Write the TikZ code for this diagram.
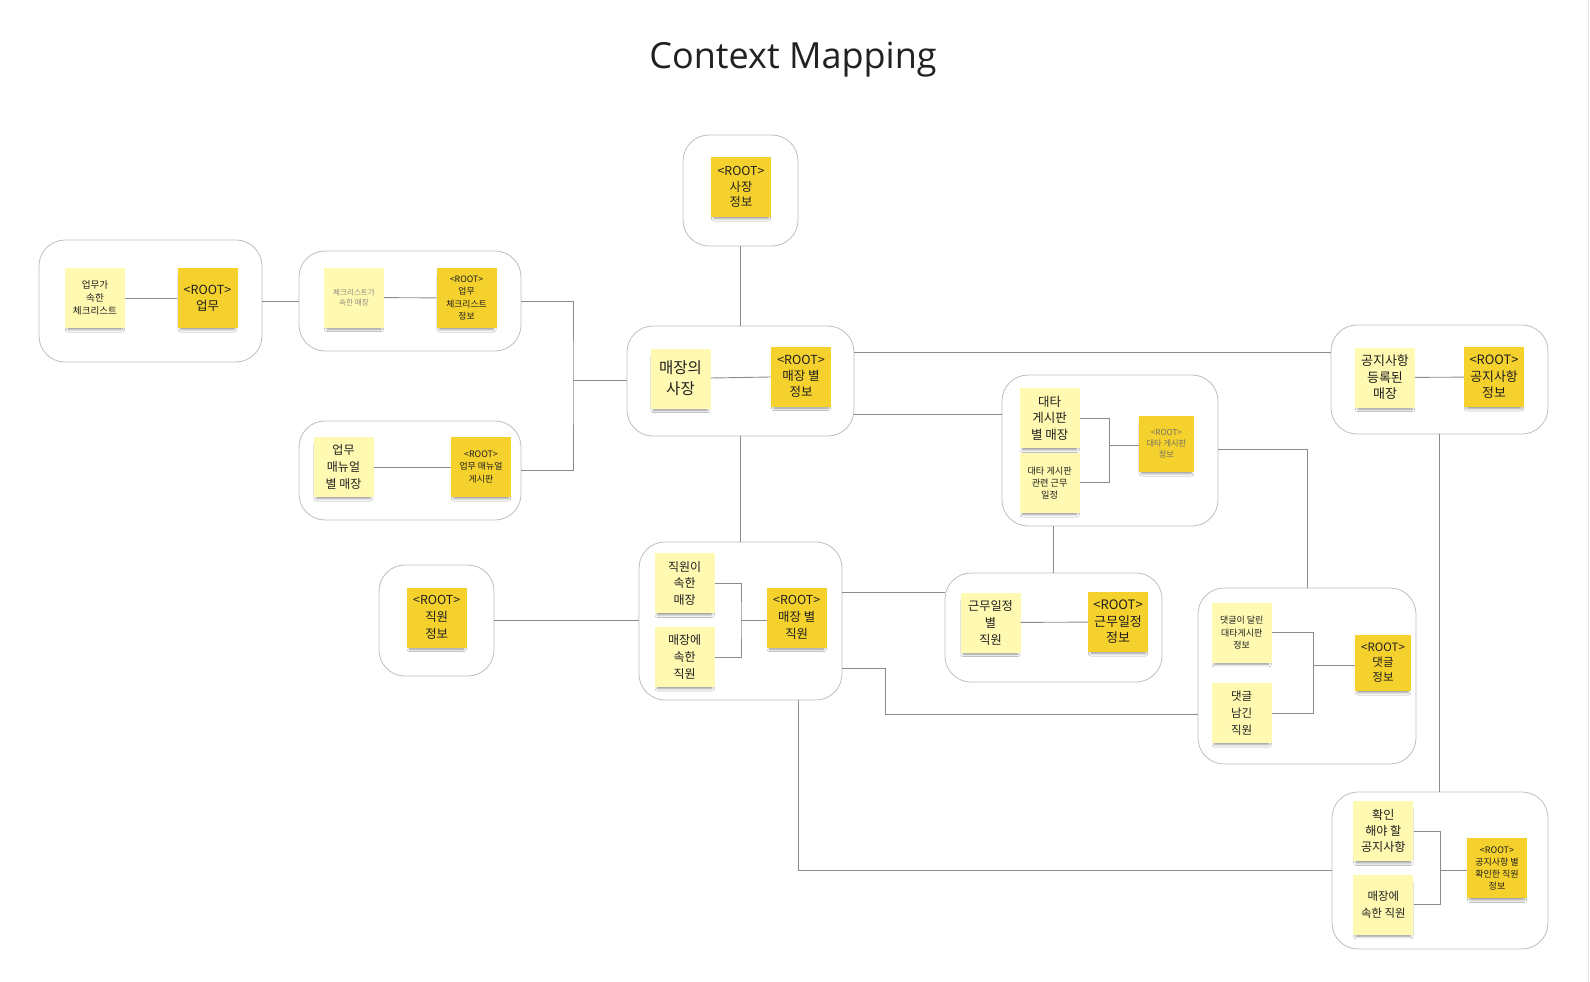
\documentclass[tikz,border=0pt]{standalone}
\usepackage{fontspec}
\setmainfont{Noto Sans CJK KR}
\newfontfamily\titlefont{Open Sans}
\usetikzlibrary{shadows.blur}

\definecolor{noteLight}{HTML}{FFF9B1}
\definecolor{noteDark}{HTML}{F5D12E}
\definecolor{boxLine}{HTML}{BEBEBE}
\definecolor{linkLine}{HTML}{8C8C8C}
\definecolor{paleText}{HTML}{8E8E80}

\newcommand{\fsz}[2]{\fontsize{#1}{#2}\selectfont}

\begin{document}
\begin{tikzpicture}[x=1pt, y=-1pt,
  ctxbox/.style={draw=boxLine, line width=0.8pt, rounded corners=26pt, fill=white, inner sep=0pt},
  sticky/.style={fill=noteLight, minimum width=60pt, minimum height=60pt, inner sep=1pt,
    align=center, text=black!88,
    blur shadow={shadow xshift=0pt, shadow yshift=-5pt, shadow blur radius=3pt,
      shadow opacity=45, shadow scale=0.9}},
  rootsticky/.style={sticky, fill=noteDark},
  link/.style={draw=linkLine, line width=0.9pt}]
\useasboundingbox (0,0) rectangle (1590,982);

% === Title ===
\node[font=\titlefont\fsz{36}{40}, text=black!87, anchor=base] (Title) at (793,68.3) {Context Mapping};

% right edge strip
\draw[black!10, line width=1pt] (1588,0) -- (1588,982);

% === Context boxes ===
\foreach \name/\x/\y/\w/\h in {Task/150.5/301/223/122, Check/410/301/222/100,
    Manual/410/470.5/222/99, Owner/740.5/190.5/115/111, Store/740.5/381/227/110,
    Sub/1110/450.5/216/151, Notice/1439.5/379.5/217/109, Emp/436.5/620.5/115/111,
    StoreEmp/740.5/621/203/158, Sched/1053.5/627.5/217/109,
    Comment/1307/676/218/176, Confirm/1440/870.5/216/157}{
  \node[ctxbox, minimum width=\w, minimum height=\h] (Box-\name) at (\x,\y) {};
}

% === Stickies ===
% task
\node[sticky, font=\fsz{9.6}{12.7}] (Task-1) at (95,298) {업무가\\속한\\체크리스트};
\node[rootsticky, font=\fsz{12.5}{16}] (Task-R) at (207.5,298) {<ROOT>\\업무};
% checklist
\node[sticky, font=\fsz{7.6}{10}, text=paleText] (Check-1) at (354,297.5) {체크리스트가\\속한 매장};
\node[rootsticky, font=\fsz{8.8}{12.3}] (Check-R) at (466.5,298) {<ROOT>\\업무\\체크리스트\\정보};
% manual
\node[sticky, font=\fsz{12}{16.7}] (Manual-1) at (343.5,467) {업무\\매뉴얼\\별 매장};
\node[rootsticky, font=\fsz{8.9}{12.3}] (Manual-R) at (481,467) {<ROOT>\\업무 매뉴얼\\게시판};
% owner
\node[rootsticky, font=\fsz{12.3}{15.3}] (Owner-R) at (741,187) {<ROOT>\\사장\\정보};
% store
\node[sticky, font=\fsz{15.5}{21}] (Store-1) at (680.5,378.5) {매장의\\사장};
\node[rootsticky, font=\fsz{12.5}{16}] (Store-R) at (801,376.5) {<ROOT>\\매장 별\\정보};
% substitute board
\node[sticky, font=\fsz{12.5}{16.7}] (Sub-1) at (1049.7,418.3) {대타\\게시판\\별 매장};
\node[sticky, font=\fsz{9.2}{12}] (Sub-2) at (1049.7,482.8) {대타 게시판\\관련 근무\\일정};
\node[rootsticky, minimum width=55pt, minimum height=56pt, font=\fsz{8.2}{11},
  text=paleText!80!black] (Sub-R) at (1166.4,443.7) {<ROOT>\\대타 게시판\\정보};
% employee
\node[rootsticky, font=\fsz{12.4}{16.7}] (Emp-R) at (436.7,617.5) {<ROOT>\\직원\\정보};
% store employee
\node[sticky, font=\fsz{12}{16.7}] (StoreEmp-1) at (684.7,583.3) {직원이\\속한\\매장};
\node[sticky, font=\fsz{12}{16.7}] (StoreEmp-2) at (684.7,657) {매장에\\속한\\직원};
\node[rootsticky, font=\fsz{12.4}{16.7}] (StoreEmp-R) at (796.7,617.5) {<ROOT>\\매장 별\\직원};
% schedule
\node[sticky, font=\fsz{12.2}{17}] (Sched-1) at (990.5,622.5) {근무일정\\별\\직원};
\node[rootsticky, font=\fsz{13}{16.5}] (Sched-R) at (1118,622) {<ROOT>\\근무일정\\정보};
% notice
\node[sticky, font=\fsz{13}{16.5}] (Notice-1) at (1385,377.5) {공지사항\\등록된\\매장};
\node[rootsticky, font=\fsz{12.9}{16.5}] (Notice-R) at (1494,377) {<ROOT>\\공지사항\\정보};
% comment
\node[sticky, font=\fsz{9}{12.3}] (Comment-1) at (1241.7,632.7) {댓글이 달린\\대타게시판\\정보};
\node[sticky, font=\fsz{11.5}{16.7}] (Comment-2) at (1241.7,713) {댓글\\남긴\\직원};
\node[rootsticky, minimum width=56pt, minimum height=56pt, font=\fsz{11.5}{15}] (Comment-R) at (1383,662.8) {<ROOT>\\댓글\\정보};
% confirm
\node[sticky, font=\fsz{12.1}{16}] (Confirm-1) at (1383.3,831.3) {확인\\해야 할\\공지사항};
\node[sticky, font=\fsz{11.4}{17}] (Confirm-2) at (1383.3,904.7) {매장에\\속한 직원};
\node[rootsticky, font=\fsz{9}{12}] (Confirm-R) at (1497,868.3) {<ROOT>\\공지사항 별\\확인한 직원\\정보};

% === Connections ===
% inside a box
\foreach \a/\b in {Task-1/Task-R, Check-1/Check-R, Manual-1/Manual-R,
    Store-1/Store-R, Sched-1/Sched-R, Notice-1/Notice-R}{
  \draw[link] (\a) -- (\b);
}

% two notes -> root
\coordinate (J-Sub) at (1109.3,445);
\coordinate (J-StoreEmp) at (741,620.5);
\coordinate (J-Comment) at (1313.3,665.5);
\coordinate (J-Confirm) at (1440,870);
\foreach \a/\b/\r/\j in {Sub-1/Sub-2/Sub-R/J-Sub, StoreEmp-1/StoreEmp-2/StoreEmp-R/J-StoreEmp,
    Comment-1/Comment-2/Comment-R/J-Comment, Confirm-1/Confirm-2/Confirm-R/J-Confirm}{
  \draw[link] (\a.east) -| (\j) |- (\b.east);
  \draw[link] (\j) -- (\r.west |- \j);
}

% between boxes
\coordinate (J-Left) at (573,380);
\draw[link] (Box-Task) -- (Box-Check);
\draw[link] (Box-Check.east) -| (J-Left) |- (Box-Manual.east);
\draw[link] (J-Left) -- (Box-Store.west |- J-Left);
\draw[link] (Box-Owner) -- (Box-Store);
\draw[link] (Box-Store) -- (Box-StoreEmp);
\draw[link] ([yshift=29pt]Box-Store.east) coordinate (tmp) -- (tmp -| Box-Notice.west);
\draw[link] ([yshift=-33pt]Box-Store.east) coordinate (tmp) -- (tmp -| Box-Sub.west);
\draw[link] (Box-Sub.south -| Box-Sched.north) -- (Box-Sched.north);
\draw[link] ([yshift=1.5pt]Box-Sub.east) -| (Box-Comment.north);
\draw[link] (Box-Notice.south) -- (Box-Notice.south |- Box-Confirm.north);
\draw[link] (Box-Emp.east) -- (Box-Emp.east -| Box-StoreEmp.west);
\draw[link] ([yshift=29pt]Box-StoreEmp.east) coordinate (tmp) -- (tmp -| Box-Sched.west);
\draw[link] ([yshift=-47pt]Box-StoreEmp.east) -- ++(43,0) |- ([yshift=-38pt]Box-Comment.west);
\draw[link] ([xshift=57.5pt]Box-StoreEmp.south) |- (Box-Confirm.west);
\end{tikzpicture}
\end{document}
